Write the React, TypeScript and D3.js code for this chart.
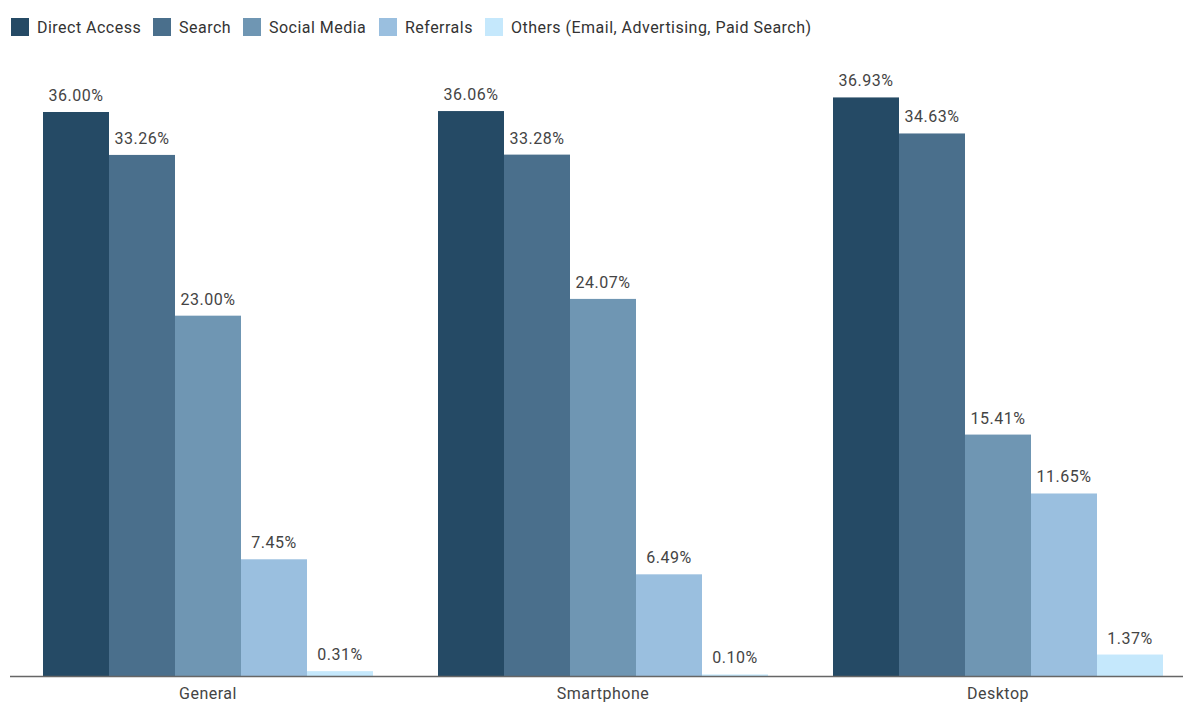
import React from "react";
import * as d3 from "d3";

const categories = ["General", "Smartphone", "Desktop"];
const seriesNames = [
  "Direct Access",
  "Search",
  "Social Media",
  "Referrals",
  "Others (Email, Advertising, Paid Search)",
];
const directAccess = [36.0, 36.06, 36.93];
const search = [33.26, 33.28, 34.63];
const socialMedia = [23.0, 24.07, 15.41];
const referrals = [7.45, 6.49, 11.65];
const others = [0.31, 0.1, 1.37];
const seriesValues = [directAccess, search, socialMedia, referrals, others];
const colors = ["#254a65", "#4a6f8c", "#6f96b3", "#9abfdf", "#c5e8fc"];
const legendX = [11, 153, 243, 379, 485];

const W = 1183;
const H = 702;
const baseY = 676;

export default function App() {
  const x0 = d3
    .scaleBand<string>()
    .domain(categories)
    .range([10.5, 1195.5])
    .paddingInner(65 / 395)
    .paddingOuter(65 / 395 / 2);
  const x1 = d3
    .scaleBand<string>()
    .domain(seriesNames)
    .range([0, x0.bandwidth()]);
  const y = d3.scaleLinear().domain([0, 36]).range([baseY, baseY - 564]);
  const font = "Roboto, 'Noto Sans', sans-serif";

  return (
    <svg
      width={W}
      height={H}
      style={{ position: "absolute", left: 0, top: 0, fontFamily: font }}
    >
      <rect width={W} height={H} fill="#fff" />
      {seriesNames.map((s, i) => (
        <g key={s}>
          <rect x={legendX[i]} y={18} width={18} height={18} fill={colors[i]} />
          <text
            x={legendX[i] + 26}
            y={33}
            fontSize={16}
            letterSpacing={0.48}
            fill="#333"
          >
            {s}
          </text>
        </g>
      ))}
      {categories.map((c, ci) => (
        <g key={c} transform={`translate(${x0(c)},0)`}>
          {seriesNames.map((s, si) => {
            const v = seriesValues[si][ci];
            const bx = x1(s)!;
            const by = y(v);
            return (
              <g key={s}>
                <rect
                  x={bx}
                  y={by}
                  width={x1.bandwidth()}
                  height={baseY - by}
                  fill={colors[si]}
                />
                <text
                  x={bx + x1.bandwidth() / 2}
                  y={by - 11}
                  textAnchor="middle"
                  fontSize={16}
                  letterSpacing={0.5}
                  fill="#444"
                >
                  {v.toFixed(2)}%
                </text>
              </g>
            );
          })}
          <text
            x={x0.bandwidth() / 2}
            y={699}
            textAnchor="middle"
            fontSize={16}
            letterSpacing={0.5}
            fill="#444"
          >
            {c}
          </text>
        </g>
      ))}
      <line x1={10} x2={W} y1={baseY + 0.5} y2={baseY + 0.5} stroke="#666" strokeWidth={1.5} />
    </svg>
  );
}
